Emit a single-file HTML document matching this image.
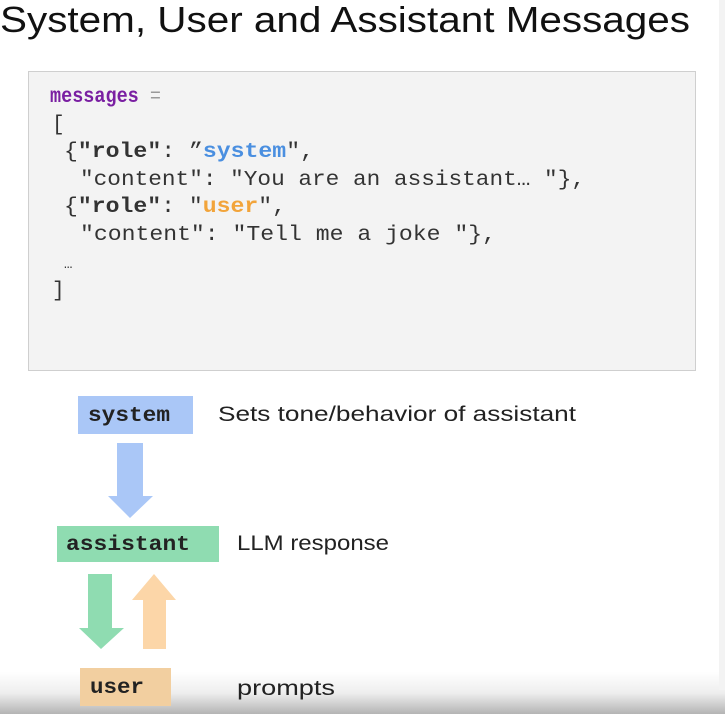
<!DOCTYPE html>
<html><head><meta charset="utf-8"><style>
html,body{margin:0;padding:0;background:#fff;}
svg{display:block;}
</style></head><body>
<svg width="725" height="714" viewBox="0 0 725 714" xmlns="http://www.w3.org/2000/svg">
<defs>
<linearGradient id="bg" x1="0" y1="0" x2="0" y2="1">
<stop offset="0" stop-color="#ffffff"/>
<stop offset="0.5" stop-color="#eeeeee"/>
<stop offset="1" stop-color="#b4b4b4"/>
</linearGradient>
</defs>
<rect x="0" y="0" width="725" height="714" fill="#fff"/>
<rect x="0" y="672" width="725" height="42" fill="url(#bg)"/>
<rect x="719" y="0" width="6" height="690" fill="#f3f3f3"/>
<text x="0" y="32" font-family="Liberation Sans, sans-serif" font-size="36" fill="#111" textLength="690" lengthAdjust="spacingAndGlyphs">System, User and Assistant Messages</text>

<rect x="28.5" y="71.5" width="667" height="299" fill="#f3f3f3" stroke="#cfcfcf" stroke-width="1"/>
<g font-family="Liberation Mono, monospace" font-size="21" fill="#333">
<text x="50" y="102" textLength="111" lengthAdjust="spacingAndGlyphs"><tspan fill="#7a1fa2" font-weight="bold">messages</tspan><tspan fill="#999"> =</tspan></text>
<text x="52" y="130">[</text>
<text x="64" y="157" textLength="250" lengthAdjust="spacingAndGlyphs">{<tspan font-weight="bold">"role"</tspan>: ”<tspan fill="#4a8fe0" font-weight="bold">system</tspan>",</text>
<text x="80" y="185" textLength="505" lengthAdjust="spacingAndGlyphs">"content": "You are an assistant… "},</text>
<text x="64" y="212" textLength="222" lengthAdjust="spacingAndGlyphs">{<tspan font-weight="bold">"role"</tspan>: "<tspan fill="#f2a43a" font-weight="bold">user</tspan>",</text>
<text x="80" y="240" textLength="416" lengthAdjust="spacingAndGlyphs">"content": "Tell me a joke "},</text>
<text x="64" y="268" font-size="14">…</text>
<text x="52" y="296">]</text>
</g>

<rect x="78" y="396" width="115" height="38" fill="#aac7f7"/>
<text x="88" y="421" font-family="Liberation Mono, monospace" font-weight="bold" font-size="21" fill="#222" textLength="82" lengthAdjust="spacingAndGlyphs">system</text>
<text x="218" y="421" font-family="Liberation Sans, sans-serif" font-size="21" fill="#222" textLength="358" lengthAdjust="spacingAndGlyphs">Sets tone/behavior of assistant</text>

<polygon points="117,443 143,443 143,496 153,496 130,518 108,496 117,496" fill="#aac7f7"/>

<rect x="57" y="526" width="162" height="36" fill="#8fdcb1"/>
<text x="66" y="550" font-family="Liberation Mono, monospace" font-weight="bold" font-size="21" fill="#222" textLength="124" lengthAdjust="spacingAndGlyphs">assistant</text>
<text x="237" y="550" font-family="Liberation Sans, sans-serif" font-size="21" fill="#222" textLength="152" lengthAdjust="spacingAndGlyphs">LLM response</text>

<polygon points="88,574 112,574 112,628 124,628 101,649 79,628 88,628" fill="#8fdcb1"/>
<polygon points="154,574 176,600 166,600 166,649 143,649 143,600 132,600" fill="#fcd6a8"/>

<rect x="80" y="668" width="91" height="38" fill="#f2cfa0"/>
<text x="90" y="693" font-family="Liberation Mono, monospace" font-weight="bold" font-size="21" fill="#222" textLength="54" lengthAdjust="spacingAndGlyphs">user</text>
<text x="237" y="695" font-family="Liberation Sans, sans-serif" font-size="21" fill="#222" textLength="98" lengthAdjust="spacingAndGlyphs">prompts</text>
</svg>
</body></html>
